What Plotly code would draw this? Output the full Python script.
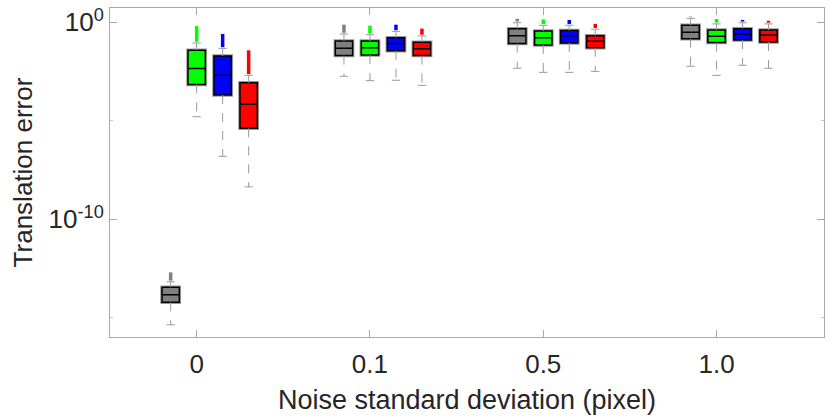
import plotly.graph_objects as go

# ---- data (log10 of translation error) ----
groups = ["0", "0.1", "0.5", "1.0"]
methods = ["gray", "green", "blue", "red"]

gray_q1 = [-14.21, -1.69, -1.08, -0.83]
gray_med = [-13.83, -1.32, -0.68, -0.51]
gray_q3 = [-13.45, -0.95, -0.32, -0.15]
gray_lo = [-15.35, -2.74, -2.33, -2.23]
gray_hi = [-13.17, -0.59, -0.02, 0.20]
gray_out = [-12.69, -0.12, 0.18, 0.29]

green_q1 = [-3.15, -1.66, -1.15, -1.03]
green_med = [-2.34, -1.29, -0.78, -0.71]
green_q3 = [-1.42, -0.95, -0.44, -0.39]
green_lo = [-4.79, -2.96, -2.54, -2.69]
green_hi = [-1.05, -0.63, -0.15, -0.08]
green_out = [-0.19, -0.17, 0.15, 0.17]

blue_q1 = [-3.69, -1.44, -1.05, -0.90]
blue_med = [-2.69, -1.08, -0.68, -0.59]
blue_q3 = [-1.71, -0.78, -0.42, -0.32]
blue_lo = [-6.80, -2.94, -2.54, -2.18]
blue_hi = [-1.32, -0.46, -0.15, -0.02]
blue_out = [-0.59, -0.12, 0.12, 0.12]

red_q1 = [-5.38, -1.69, -1.29, -1.00]
red_med = [-4.16, -1.34, -0.96, -0.64]
red_q3 = [-3.07, -1.01, -0.68, -0.39]
red_lo = [-8.35, -3.20, -2.49, -2.33]
red_hi = [-2.69, -0.69, -0.35, -0.08]
red_out = [-1.42, -0.32, -0.08, 0.08]

series = {
    "gray": dict(q1=gray_q1, med=gray_med, q3=gray_q3, lo=gray_lo, hi=gray_hi, out=gray_out),
    "green": dict(q1=green_q1, med=green_med, q3=green_q3, lo=green_lo, hi=green_hi, out=green_out),
    "blue": dict(q1=blue_q1, med=blue_med, q3=blue_q3, lo=blue_lo, hi=blue_hi, out=blue_out),
    "red": dict(q1=red_q1, med=red_med, q3=red_q3, lo=red_lo, hi=red_hi, out=red_out),
}

# ---- styles ----
fill = {"gray": "#808080", "green": "#00ff00", "blue": "#0000ff", "red": "#ff0000"}
offset = {"gray": -0.15, "green": 0.0, "blue": 0.15, "red": 0.30}
box_w = 0.10
cap_half = 0.024
whisk_col = "#9a9a9a"
FONT = "Liberation Sans, Arial, Helvetica, sans-serif"
TXT = "#262626"


def p(v):
    return 10 ** v


fig = go.Figure()
for m in methods:
    s = series[m]
    xs = [i + offset[m] for i in range(len(groups))]
    wx, wy = [], []
    cx, cy = [], []
    ox, oy = [], []
    for x, q1, q3, lo, hi, out in zip(xs, s["q1"], s["q3"], s["lo"], s["hi"], s["out"]):
        wx += [x, x, None, x, x, None]
        wy += [p(q3), p(hi), None, p(q1), p(lo), None]
        cx += [x - cap_half, x + cap_half, None, x - cap_half, x + cap_half, None]
        cy += [p(hi), p(hi), None, p(lo), p(lo), None]
        ox += [x, x, None]
        oy += [p(hi) * 1.15, p(out), None]
    fig.add_trace(go.Scatter(x=wx, y=wy, mode="lines",
                             line=dict(color=whisk_col, width=1, dash="dash"),
                             hoverinfo="skip", showlegend=False))
    fig.add_trace(go.Scatter(x=cx, y=cy, mode="lines",
                             line=dict(color=whisk_col, width=1),
                             hoverinfo="skip", showlegend=False))
    fig.add_trace(go.Scatter(x=ox, y=oy, mode="lines",
                             line=dict(color=fill[m], width=3.5),
                             hoverinfo="skip", showlegend=False))
    q1v = [p(v) for v in s["q1"]]
    medv = [p(v) for v in s["med"]]
    q3v = [p(v) for v in s["q3"]]
    # halo box
    fig.add_trace(go.Box(x=xs, q1=q1v, median=medv, q3=q3v, lowerfence=q1v, upperfence=q3v,
                         width=box_w, fillcolor=fill[m], line=dict(color="#9a9a9a", width=3.5),
                         whiskerwidth=0, showlegend=False, hoverinfo="skip"))
    fig.add_trace(go.Box(x=xs, q1=q1v, median=medv, q3=q3v, lowerfence=q1v, upperfence=q3v,
                         width=box_w, fillcolor=fill[m], line=dict(color="#000000", width=1.5),
                         whiskerwidth=0, showlegend=False, name=m))

axis_col = "#a8a8a8"
fig.update_layout(
    width=830, height=417,
    margin=dict(l=110, r=6, t=8, b=80, autoexpand=False),
    paper_bgcolor="white", plot_bgcolor="white",
    font=dict(family=FONT, color=TXT, size=26),
    boxmode="overlay",
    showlegend=False,
)
fig.update_xaxes(
    range=[-0.5, 3.62], tickmode="array", tickvals=list(range(len(groups))), ticktext=groups,
    showline=True, linecolor=axis_col, linewidth=1, mirror="ticks",
    ticks="inside", ticklen=7, tickcolor=axis_col, showgrid=False, zeroline=False,
    tickfont=dict(size=26, color=TXT, family=FONT), ticklabelstandoff=4, automargin=False,
    title=dict(text="Noise standard deviation (pixel)", font=dict(size=27, color=TXT, family=FONT), standoff=11),
)
fig.update_yaxes(
    type="log", range=[-15.97, 0.727], tickmode="array", tickvals=[1e-10, 1],
    ticktext=["10<sup>-10</sup>", "10<sup>0</sup>"],
    showline=True, linecolor=axis_col, linewidth=1, mirror="ticks",
    ticks="inside", ticklen=7, tickcolor=axis_col, showgrid=False, zeroline=False,
    minor=dict(tickmode="array", tickvals=[1e-15, 1e-5], ticks="inside", ticklen=3, tickcolor="#c8c8c8", showgrid=False),
    tickfont=dict(size=26, color=TXT, family=FONT), ticklabelstandoff=0, automargin=False,
    title=dict(text="Translation error", font=dict(size=26, color=TXT, family=FONT), standoff=8),
)
fig.write_html("out.html", config={"displayModeBar": False},
               post_script="document.body.style.margin='0';")
